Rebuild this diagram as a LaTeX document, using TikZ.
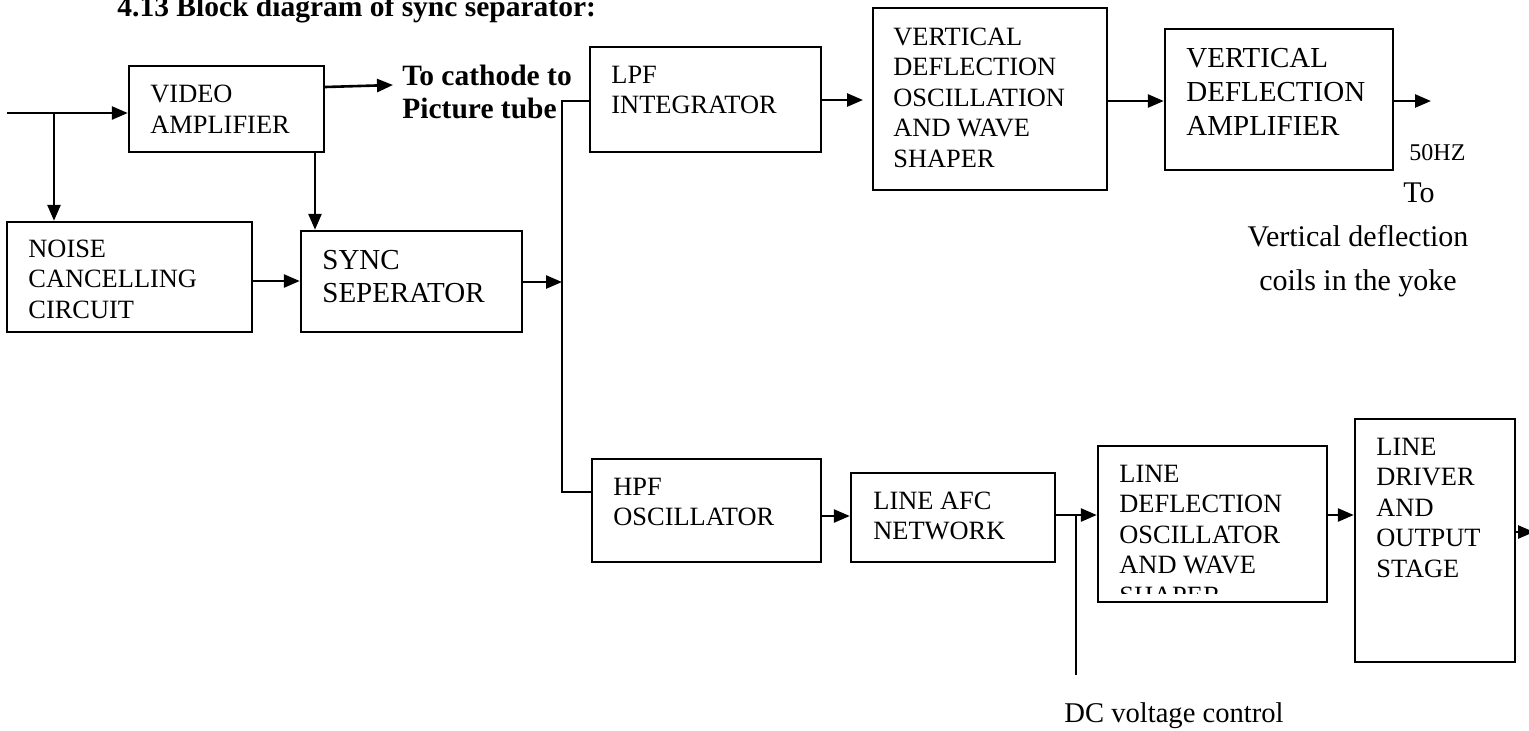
\documentclass[tikz,border=0pt]{standalone}
\usepackage{fontspec}
\setmainfont{Liberation Serif}
\usetikzlibrary{arrows.meta,fit}
\begin{document}
\begin{tikzpicture}[x=0.5pt,y=-0.5pt,
  box/.style={draw, line width=1.2pt, inner sep=0pt, rectangle},
  arr/.style={line width=1.3pt, -{Triangle[length=8pt,width=6.5pt]}},
  thinline/.style={line width=0.8pt},
  txt/.style={inner sep=0pt, align=left, anchor=base west, font=\fontsize{13.2}{15.25}\selectfont},
  bigtxt/.style={inner sep=0pt, align=left, anchor=base west, font=\fontsize{14.5}{17}\selectfont},
  boldtxt/.style={inner sep=0pt, align=left, anchor=base west, font=\fontsize{14.75}{16.5}\selectfont\bfseries},
  lbl/.style={inner sep=0pt, anchor=base, font=\fontsize{15}{22}\selectfont}]
\clip (0,0) rectangle (1529,730);
\fill[white] (0,0) rectangle (1529,730);

% title
\node[boldtxt] (title) at (117,16) {4.13 Block diagram of sync separator:};

% boxes
\node[box, fit={(129,66)(324,152)}] (vamp) {};
\node[box, fit={(7,222)(252,332)}] (noise) {};
\node[box, fit={(301,231)(522,332)}] (sync) {};
\node[box, fit={(590,47)(821,152)}] (lpf) {};
\node[box, fit={(873,8)(1107,190)}] (vdosc) {};
\node[box, fit={(1165,29)(1393,170)}] (vdamp) {};
\node[box, fit={(592,459)(821,562)}] (hpf) {};
\node[box, fit={(851,473)(1055,562)}] (lafc) {};
\node[box, fit={(1098,446)(1327,602)}] (ldosc) {};
\node[box, fit={(1355,419)(1515,662)}] (ldrv) {};

% box texts (anchored at the baseline of the last line)
\node[txt, font=\fontsize{13.2}{15.5}\selectfont] (tvamp) at (150,133) {VIDEO\\AMPLIFIER};
\node[txt] (tnoise) at (28,318) {NOISE\\CANCELLING\\CIRCUIT};
\node[bigtxt, font=\fontsize{14.5}{16.5}\selectfont] (tsync) at (322,302) {SYNC\\SEPERATOR};
\node[txt, font=\fontsize{13.2}{15}\selectfont] (tlpf) at (611,113) {LPF\\INTEGRATOR};
\node[txt] (tvdosc) at (893,167) {VERTICAL\\DEFLECTION\\OSCILLATION\\AND WAVE\\SHAPER};
\node[bigtxt] (tvdamp) at (1186,135) {VERTICAL\\DEFLECTION\\AMPLIFIER};
\node[txt, font=\fontsize{13.2}{15}\selectfont] (thpf) at (613,525) {HPF\\OSCILLATOR};
\node[txt, font=\fontsize{13.2}{15}\selectfont] (tlafc) at (873,539) {LINE AFC\\NETWORK};
\begin{scope}
  \clip (1098,446) rectangle (1327,593);
  \node[txt] (tldosc) at (1119,604) {LINE\\DEFLECTION\\OSCILLATOR\\AND WAVE\\SHAPER};
\end{scope}
\node[txt] (tldrv) at (1376,577) {LINE\\DRIVER\\AND\\OUTPUT\\STAGE};

% free labels
\node[boldtxt] (cath) at (402,118) {To cathode to\\Picture tube};
\node[inner sep=0pt, anchor=base west, font=\fontsize{12}{14}\selectfont] (hz) at (1409,160) {50HZ};
\node[inner sep=0pt, anchor=base west, font=\fontsize{15}{18}\selectfont] (to) at (1403,202) {To};
\node[lbl, align=center] (yoke) at (1358,290) {Vertical deflection\\coils in the yoke};
\node[inner sep=0pt, anchor=base west, font=\fontsize{14.3}{17}\selectfont] (dc) at (1064,722) {DC voltage control};

% helper coordinates
\coordinate (in) at (7,113);
\coordinate (br) at (54,113);
\coordinate (cathtip) at (393,85);
\coordinate (vx) at (315,0);
\coordinate (r1) at (0,281);
\coordinate (r2) at (0,282);
\coordinate (bus) at (562,0);
\coordinate (b1) at (0,101);
\coordinate (b2) at (0,492);
\coordinate (y1) at (0,100);
\coordinate (lpftip) at (863,100);
\coordinate (y2) at (0,101);
\coordinate (vout) at (1431,101);
\coordinate (y3) at (0,516);
\coordinate (y4) at (0,515);
\coordinate (junc) at (1076,515);
\coordinate (dcend) at (1076,675);
\coordinate (y5) at (0,532);
\coordinate (lout) at (1534,532);

% connectors
\draw[arr] (in) -- (vamp.west |- in);
\draw[arr] (br) -- (br |- noise.north);
\draw[arr] (vamp.east |- 0,87) -- (cathtip);
\draw[arr] (vx |- vamp.south) -- (vx |- sync.north);
\draw[arr] (noise.east |- r1) -- (sync.west |- r1);
\draw[arr] (sync.east |- r2) -- (bus |- r2);
\draw[thinline] (lpf.west |- b1) -- (bus |- b1) -- (bus |- b2) -- (hpf.west |- b2);
\draw[arr] (lpf.east |- y1) -- (lpftip);
\draw[arr] (vdosc.east |- y2) -- (vdamp.west |- y2);
\draw[arr] (vdamp.east |- y2) -- (vout);
\draw[arr] (hpf.east |- y3) -- (lafc.west |- y3);
\draw[arr] (lafc.east |- y4) -- (ldosc.west |- y4);
\draw[thinline] (junc) -- (dcend);
\draw[arr] (ldosc.east |- y4) -- (ldrv.west |- y4);
\draw[arr] (ldrv.east |- y5) -- (lout);
\end{tikzpicture}
\end{document}
